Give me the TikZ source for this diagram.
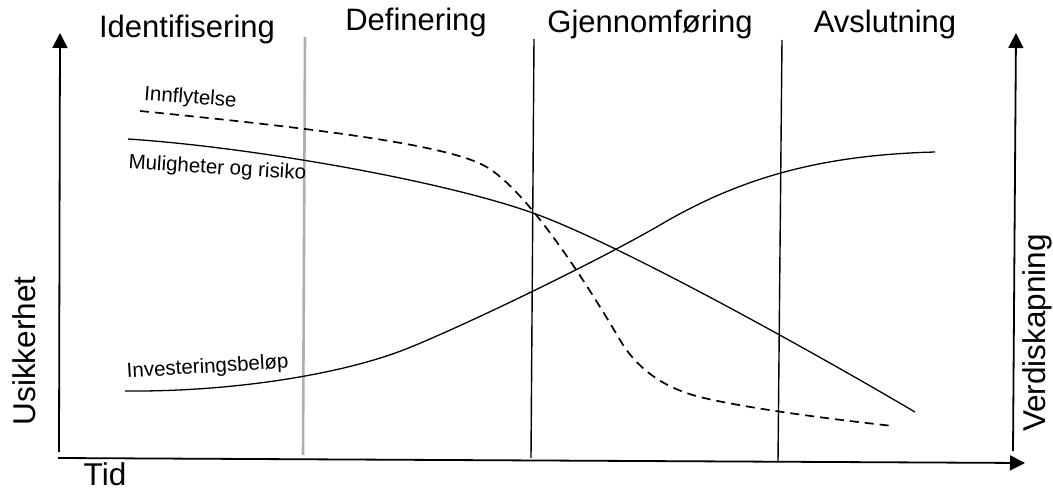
\documentclass[tikz,border=0pt]{standalone}
\usepackage{fontspec}
\setmainfont{Liberation Sans}
\usetikzlibrary{arrows.meta}
\begin{document}
\begin{tikzpicture}[x=1pt,y=-1pt,
  axis/.style={line width=1.8pt,-{Triangle[length=15pt,width=15pt]}},
  phase/.style={font=\fontsize{31}{36}\selectfont,inner sep=0pt,anchor=base},
  axlabel/.style={font=\fontsize{31.5}{36}\selectfont,inner sep=0pt,anchor=base},
  curvelabel/.style={font=\fontsize{20.5}{24}\selectfont,inner sep=0pt,anchor=base},
  curve/.style={line width=1.3pt},
  dashcurve/.style={line width=1.7pt,dash pattern=on 9pt off 6pt},
  phaseline/.style={line width=1.4pt,black},
  grayline/.style={line width=2.6pt,color={rgb,255:red,175;green,175;blue,175}}
]
\useasboundingbox (0,0) rectangle (1053,490);

% axes
\coordinate (yb) at (59,452); \coordinate (yt) at (60,33);
\coordinate (xb) at (58,458); \coordinate (xt) at (1025,463);
\coordinate (rb) at (1013,451); \coordinate (rt) at (1016,33);
\draw[axis] (yb) -- (yt);
\draw[axis] (xb) -- (xt);
\draw[axis] (rb) -- (rt);

% phase separators
\coordinate (g1) at (305,37); \coordinate (g2) at (303,455);
\coordinate (p1) at (534,39); \coordinate (p2) at (531,458);
\coordinate (q1) at (782,40); \coordinate (q2) at (778,462);
\draw[grayline] (g1) -- (g2);
\draw[phaseline] (p1) -- (p2);
\draw[phaseline] (q1) -- (q2);

% phase titles
\node[phase] (t1) at (187,37) {Identifisering};
\node[phase] (t2) at (416,30) {Definering};
\node[phase] (t3) at (650,32) {Gjennomføring};
\node[phase] (t4) at (885,32) {Avslutning};

% axis labels
\node[axlabel,rotate=90] (ylab) at (35,351) {Usikkerhet};
\node[axlabel,rotate=90] (rlab) at (1045,333) {Verdiskapning};
\node[axlabel] (xlab) at (105,485) {Tid};

% curves
\coordinate (i0) at (140,111); \coordinate (i1) at (483,165); \coordinate (i2) at (620,340);
\coordinate (i3) at (700,397); \coordinate (i4) at (893,426);
\draw[dashcurve] (i0) .. controls (300,127) and (440,143) .. (i1)
  .. controls (530,189) and (600,306) .. (i2)
  .. controls (635,365.5) and (660,387) .. (i3)
  .. controls (740,407) and (820,418) .. (i4);

\coordinate (m0) at (128,139); \coordinate (m1) at (533,213); \coordinate (m2) at (915,412);
\draw[curve] (m0) .. controls (250,147) and (440,180) .. (m1)
  .. controls (620,244) and (820,356) .. (m2);

\coordinate (v0) at (125,391); \coordinate (v1) at (406,349); \coordinate (v2) at (660,225); \coordinate (v3) at (935,152);
\draw[curve] (v0) .. controls (230,392) and (340,375) .. (v1)
  .. controls (466,325) and (600,260) .. (v2)
  .. controls (740,178) and (820,155) .. (v3);

% curve labels
\node[curvelabel,rotate=-4.2] (l1) at (190,103.5) {Innflytelse};
\node[curvelabel,rotate=-3.6] (l2) at (217,174) {Muligheter og risiko};
\node[curvelabel,rotate=3.4] (l3) at (208,373) {Investeringsbeløp};
\end{tikzpicture}
\end{document}
